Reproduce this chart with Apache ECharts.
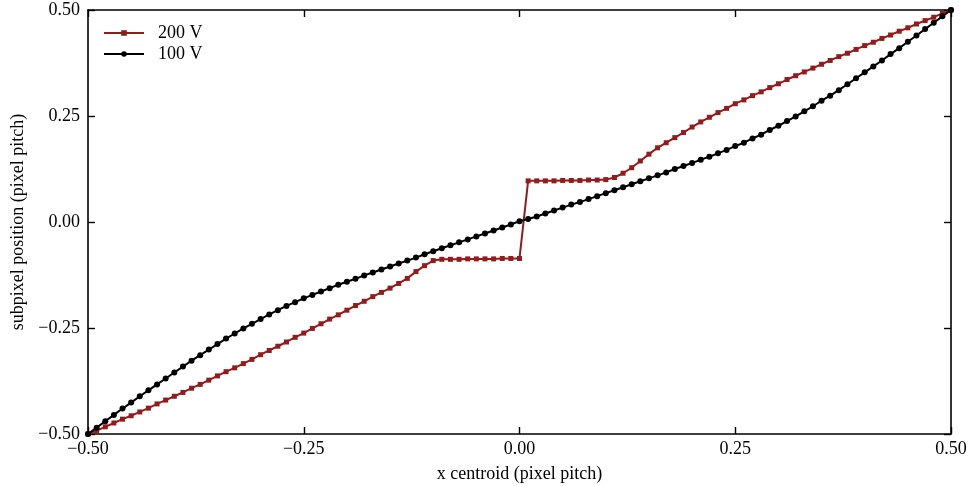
<!DOCTYPE html>
<html>
<head>
<meta charset="utf-8">
<script src="https://cdn.jsdelivr.net/npm/echarts@6/dist/echarts.min.js"></script>
<style>
html,body{margin:0;padding:0;background:#fff;}
#chart{width:972px;height:486px;}
</style>
</head>
<body>
<div id="chart"></div>
<script>
var xCentroid = [-0.50,-0.49,-0.48,-0.47,-0.46,-0.45,-0.44,-0.43,-0.42,-0.41,
  -0.40,-0.39,-0.38,-0.37,-0.36,-0.35,-0.34,-0.33,-0.32,-0.31,
  -0.30,-0.29,-0.28,-0.27,-0.26,-0.25,-0.24,-0.23,-0.22,-0.21,
  -0.20,-0.19,-0.18,-0.17,-0.16,-0.15,-0.14,-0.13,-0.12,-0.11,
  -0.10,-0.09,-0.08,-0.07,-0.06,-0.05,-0.04,-0.03,-0.02,-0.01,
  0.00,0.01,0.02,0.03,0.04,0.05,0.06,0.07,0.08,0.09,
  0.10,0.11,0.12,0.13,0.14,0.15,0.16,0.17,0.18,0.19,
  0.20,0.21,0.22,0.23,0.24,0.25,0.26,0.27,0.28,0.29,
  0.30,0.31,0.32,0.33,0.34,0.35,0.36,0.37,0.38,0.39,
  0.40,0.41,0.42,0.43,0.44,0.45,0.46,0.47,0.48,0.49,0.50];

var pos200V = [-0.500,-0.492,-0.483,-0.474,-0.465,-0.457,-0.448,-0.439,-0.429,-0.420,
  -0.411,-0.402,-0.392,-0.383,-0.373,-0.363,-0.353,-0.344,-0.334,-0.324,
  -0.313,-0.303,-0.293,-0.283,-0.272,-0.262,-0.251,-0.240,-0.229,-0.219,
  -0.208,-0.197,-0.187,-0.176,-0.166,-0.156,-0.145,-0.133,-0.117,-0.103,
  -0.091,-0.088,-0.088,-0.088,-0.087,-0.087,-0.087,-0.087,-0.086,-0.086,
  -0.086,0.097,0.097,0.097,0.097,0.098,0.098,0.098,0.099,0.099,
  0.100,0.105,0.115,0.128,0.144,0.160,0.175,0.187,0.199,0.211,
  0.224,0.236,0.247,0.258,0.268,0.279,0.288,0.298,0.307,0.317,
  0.326,0.336,0.345,0.354,0.363,0.372,0.381,0.390,0.398,0.407,
  0.416,0.424,0.433,0.441,0.450,0.458,0.467,0.475,0.483,0.492,0.500];

var pos100V = [-0.500,-0.485,-0.470,-0.455,-0.440,-0.426,-0.411,-0.397,-0.383,-0.369,
  -0.355,-0.341,-0.327,-0.314,-0.301,-0.288,-0.275,-0.263,-0.251,-0.240,
  -0.229,-0.218,-0.208,-0.198,-0.189,-0.180,-0.172,-0.164,-0.156,-0.148,
  -0.141,-0.134,-0.126,-0.119,-0.112,-0.105,-0.098,-0.091,-0.084,-0.076,
  -0.069,-0.062,-0.055,-0.048,-0.041,-0.034,-0.027,-0.020,-0.013,-0.006,
  0.002,0.007,0.013,0.020,0.027,0.034,0.041,0.047,0.054,0.061,
  0.068,0.075,0.082,0.089,0.096,0.103,0.110,0.117,0.125,0.132,
  0.139,0.147,0.154,0.162,0.170,0.179,0.187,0.197,0.206,0.217,
  0.227,0.238,0.249,0.261,0.273,0.286,0.298,0.311,0.325,0.339,
  0.353,0.367,0.381,0.396,0.410,0.425,0.440,0.455,0.470,0.485,0.500];

var seriesNames = ['200 V', '100 V'];
var tickLabels = ['\u22120.50', '\u22120.25', '0.00', '0.25', '0.50'];
var axisMin = -0.5, axisMax = 0.5, axisStep = 0.25;

function pairs(xs, ys) { return xs.map(function (x, i) { return [x, ys[i]]; }); }
function fmt(v) { return tickLabels[Math.round((v - axisMin) / axisStep)]; }

var font = 'Liberation Serif';
var txt = { fontFamily: font, fontSize: 18, color: '#000' };

function axisBase(extra) {
  var a = {
    type: 'value', min: axisMin, max: axisMax, interval: axisStep,
    splitLine: { show: false },
    axisLine: { show: true, onZero: false, lineStyle: { color: '#000', width: 1.6 } },
    axisTick: { show: true, inside: true, length: 7, lineStyle: { color: '#000', width: 1.4 } }
  };
  for (var k in extra) a[k] = extra[k];
  return a;
}

var chart = echarts.init(document.getElementById('chart'), null, { renderer: 'canvas' });
chart.setOption({
  animation: false,
  backgroundColor: '#fff',
  grid: { left: 88, right: 21, top: 10, bottom: 52, containLabel: false, outerBoundsMode: 'none' },
  legend: {
    data: seriesNames,
    orient: 'vertical',
    left: 103, top: 24,
    padding: 0,
    itemGap: 3,
    itemWidth: 40, itemHeight: 7,
    textStyle: { fontFamily: font, fontSize: 18, color: '#000', padding: [0, 0, 0, 9] }
  },
  xAxis: [
    axisBase({
      position: 'bottom',
      name: 'x centroid (pixel pitch)', nameLocation: 'middle', nameGap: 31,
      nameTextStyle: txt,
      axisLabel: { show: true, margin: 6, fontFamily: font, fontSize: 18, color: '#000', formatter: fmt }
    }),
    axisBase({ position: 'top', axisLabel: { show: false } })
  ],
  yAxis: [
    axisBase({
      position: 'left',
      name: 'subpixel position (pixel pitch)', nameLocation: 'middle', nameGap: 61,
      nameTextStyle: txt,
      axisLabel: { show: true, margin: 8, fontFamily: font, fontSize: 18, color: '#000', formatter: fmt }
    }),
    axisBase({ position: 'right', axisLabel: { show: false } })
  ],
  series: [
    {
      name: seriesNames[0], type: 'line', xAxisIndex: 0, yAxisIndex: 0,
      data: pairs(xCentroid, pos200V),
      symbol: 'rect', symbolSize: 5, showAllSymbol: true,
      color: '#941b1b',
      lineStyle: { color: '#941b1b', width: 2 },
      itemStyle: { color: '#941b1b' }
    },
    {
      name: seriesNames[1], type: 'line', xAxisIndex: 0, yAxisIndex: 0,
      data: pairs(xCentroid, pos100V),
      symbol: 'circle', symbolSize: 6, showAllSymbol: true,
      color: '#000',
      lineStyle: { color: '#000', width: 2 },
      itemStyle: { color: '#000' }
    }
  ]
});
</script>
</body>
</html>
